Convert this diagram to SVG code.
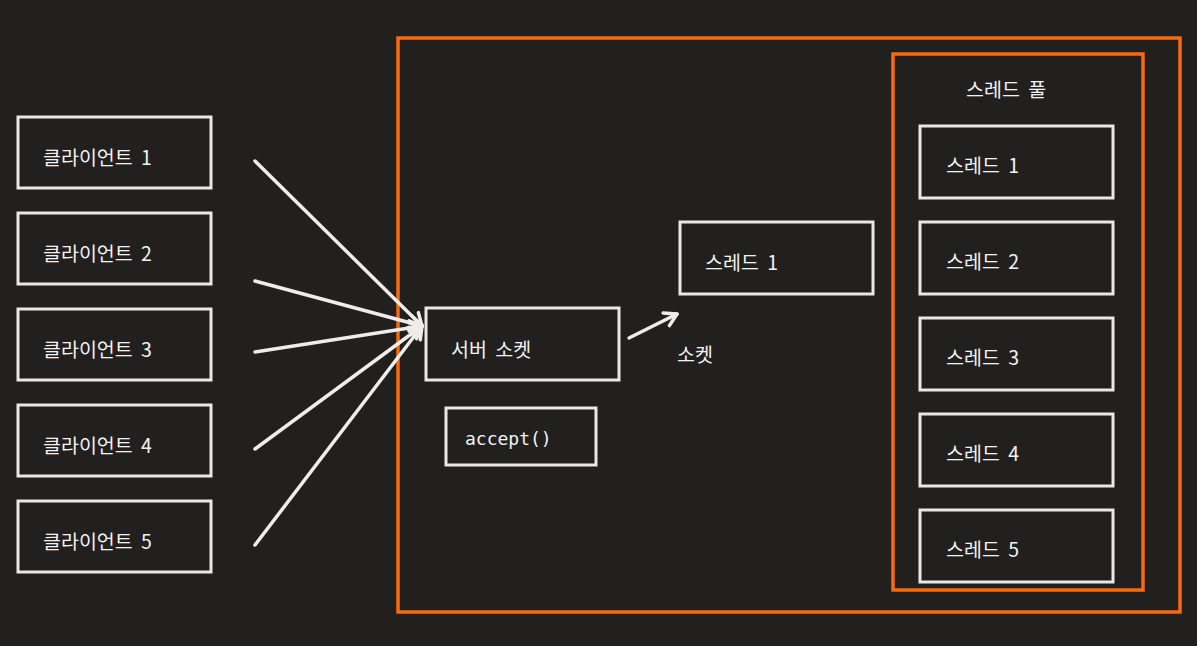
<svg xmlns="http://www.w3.org/2000/svg" width="1197" height="646" viewBox="0 0 1197 646">
<style>
.bg{fill:#21201f}
.box{fill:none;stroke:#e9e8e6;stroke-width:3}
.org{fill:none;stroke:#f76a0f;stroke-width:3.5}
.t{font-family:"Noto Sans CJK KR","Noto Sans",sans-serif;font-size:19.5px;word-spacing:4px;fill:#f2f2f2}
.m{font-family:"DejaVu Sans Mono","Liberation Mono",monospace;font-size:18px;fill:#f2f2f2}
.c{fill:none;stroke:#eeedeb;stroke-width:3.5;stroke-linecap:round}
</style>
<defs>
<marker id="ah" viewBox="0 0 20 20" refX="14" refY="10" markerWidth="20" markerHeight="20" markerUnits="userSpaceOnUse" orient="auto">
<path d="M2,3 L14,10 L2,17" fill="none" stroke="#eeedeb" stroke-width="3.5" stroke-linecap="round" stroke-linejoin="round"/>
</marker>
</defs>
<rect class="bg" x="0" y="0" width="1197" height="646"/>
<g id="server-area"><rect class="org" x="398" y="38" width="782" height="574"/></g>
<g id="thread-pool"><rect class="org" x="893" y="54" width="250" height="536"/><text class="t" x="966" y="97">스레드 풀</text></g>
<g id="client1"><rect class="box" x="18" y="117" width="193" height="71"/><text class="t" x="43" y="165">클라이언트 1</text></g>
<g id="client2"><rect class="box" x="18" y="213" width="193" height="71"/><text class="t" x="43" y="261">클라이언트 2</text></g>
<g id="client3"><rect class="box" x="18" y="309" width="193" height="71"/><text class="t" x="43" y="357">클라이언트 3</text></g>
<g id="client4"><rect class="box" x="18" y="405" width="193" height="71"/><text class="t" x="43" y="453">클라이언트 4</text></g>
<g id="client5"><rect class="box" x="18" y="501" width="193" height="71"/><text class="t" x="43" y="549">클라이언트 5</text></g>
<g id="server-socket"><rect class="box" x="426" y="308" width="193" height="72"/><text class="t" x="451" y="357">서버 소켓</text></g>
<g id="accept"><rect class="box" x="446" y="408" width="150" height="57"/><text class="m" x="465" y="445">accept()</text></g>
<g id="thread-main"><rect class="box" x="680" y="222" width="193" height="72"/><text class="t" x="705" y="270">스레드 1</text></g>
<g id="socket-label"><text class="t" x="677" y="362">소켓</text></g>
<g id="pool-thread1"><rect class="box" x="920" y="126" width="193" height="72"/><text class="t" x="946" y="173">스레드 1</text></g>
<g id="pool-thread2"><rect class="box" x="920" y="222" width="193" height="72"/><text class="t" x="946" y="269">스레드 2</text></g>
<g id="pool-thread3"><rect class="box" x="920" y="318" width="193" height="72"/><text class="t" x="946" y="365">스레드 3</text></g>
<g id="pool-thread4"><rect class="box" x="920" y="414" width="193" height="72"/><text class="t" x="946" y="461">스레드 4</text></g>
<g id="pool-thread5"><rect class="box" x="920" y="510" width="193" height="72"/><text class="t" x="946" y="557">스레드 5</text></g>
<g id="connectors">
<line class="c" x1="255" y1="161" x2="422" y2="326" marker-end="url(#ah)"/>
<line class="c" x1="255" y1="281" x2="422" y2="326" marker-end="url(#ah)"/>
<line class="c" x1="255" y1="352" x2="422" y2="326" marker-end="url(#ah)"/>
<line class="c" x1="255" y1="449" x2="422" y2="326" marker-end="url(#ah)"/>
<line class="c" x1="255" y1="545" x2="422" y2="326" marker-end="url(#ah)"/>
<line class="c" x1="629" y1="338" x2="677" y2="314" marker-end="url(#ah)"/>
</g>
</svg>
